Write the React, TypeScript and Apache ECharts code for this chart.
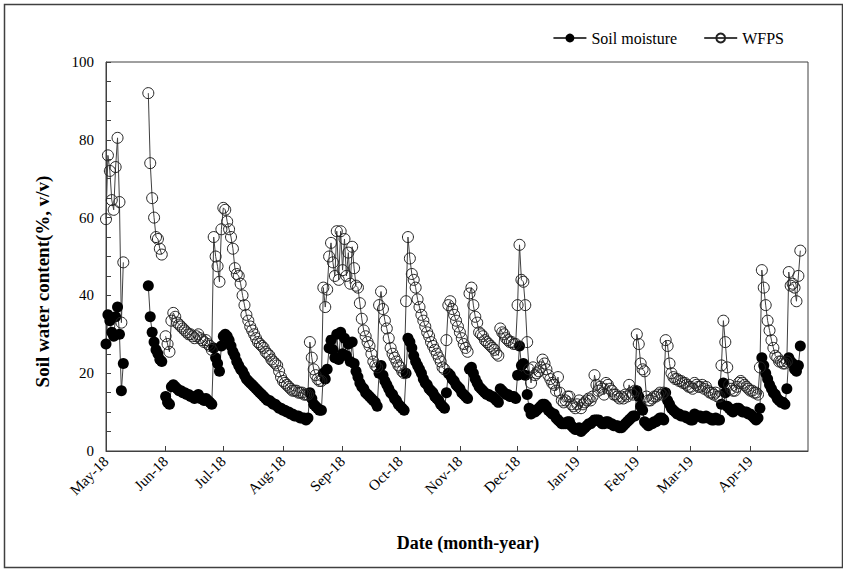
import React, { useEffect, useRef } from "react";
import * as echarts from "echarts";

// Daily series starting 1 May 2018 (index = days since 1 May 2018); null = no measurement
const soilMoisture: (number | null)[] = [
  27.5, 35, 33.5, 30.5, 29.5, 34.5, 37, 30, 15.5, 22.5,
  null, null, null, null, null, null, null, null, null, null, null, null,
  42.5, 34.5, 30.5, 28, 26, 25, 23.5, 23,
  null,
  14, 12.5, 12, 16.5, 17, 16.5, 16, 15.5, 15.5, 15, 15, 14.5, 14.5, 14, 14, 13.5, 14, 14.5, 13.5, 13.5, 13, 13.5, 13, 12.5, 12,
  26.5, 24, 22.5, 20.5, 27, 29.5, 30, 29.5, 28.5, 27,
  25.5, 24.5, 23, 22, 21, 20.5, 19.5, 18.5, 18, 17.5,
  17, 16.5, 16, 15.5, 15, 14.5, 14, 13.5, 13, 13,
  12.5, 12, 12, 11.5, 11, 11, 10.5, 10.5, 10, 10,
  9.5, 9.5, 9, 9, 9, 8.5, 8.5, 8.5, 8, 8.5,
  15, 13.5, 12, 11.5, 11, 10.5, 10.5,
  20, 18.5, 21, 26.5, 28.5, 26, 24, 30, 23.5, 30.5, 25, 29, 24.5, 27.5, 23, 28,
  22.5, 20.5, 19, 17.5, 16.5, 16, 15, 14.5, 14, 13.5, 13, 12.5, 11.5,
  20, 22, 19.5, 18, 17, 16, 15, 14.5, 13.5, 13, 12, 11.5, 11, 10.5, 20, 29,
  28, 26.5, 24.5, 23, 22, 21, 20, 18.5, 17.5, 17, 16, 15.5, 15, 14, 13.5, 13, 12, 11.5, 11,
  15, 20, 19.5, 18.5, 18, 17, 16.5, 16, 15, 14.5, 14, 13.5,
  21, 21.5, 20, 18.5, 17.5, 16.5, 16, 15.5, 15, 14.5, 14.5, 14, 14, 13.5, 13, 12.5,
  16, 15.5, 15, 14.5, 14.5, 14, 14, 14, 13.5,
  19.5, 27, 22, 22.5, 19.5, 14.5, 11, 9.5, 10.5, 10,
  10.5, 11, 11.5, 12, 12, 11.5, 10.5, 10, 9.5, 9.5,
  8.5, 8, 7.5, 7, 7, 7, 7.5, 7.5, 6.5, 6, 5.5,
  5.5, 6, 5, 5.5, 6, 6.5, 7, 7, 7.5, 8, 8, 8, 7.5, 7, 7, 7.5, 7.5, 7, 7, 6.5, 6.5, 6.5, 6, 6, 6.5, 7, 7.5, 8, 8.5, 9, 9,
  15.5, 14, 11.5, 10.5, 7.5, 7, 6.5, 7, 7, 7.5, 7.5, 8, 8.5, 8.5, 8, 15, 13, 12, 11, 10.5, 10, 9.5, 9.5, 9, 9, 9, 8.5, 8.5, 8,
  8, 9.5, 9, 9, 9, 8.5, 8.5, 9, 8.5, 8.5, 8, 8, 8.5, 8, 8, 12, 17.5, 15, 11.5, 11, 10.5, 10, 10.5, 11, 11, 10.5, 10, 10, 10, 9.5, 9.5, 9, 8.5, 8, 8.5,
  11, 24, 22, 20, 18.5, 17, 16, 15, 14.5, 13.5, 13, 12.5, 12.5, 12, 16, 24, 23, 22.5, 21, 20.5, 22, 27,
];

const wfps: (number | null)[] = [
  59.6, 76, 72, 64.5, 62, 73, 80.5, 64, 33, 48.5,
  null, null, null, null, null, null, null, null, null, null, null, null,
  92, 74, 65, 60, 55, 54.5, 52, 50.5,
  null,
  29.5, 27.5, 25.5, 33.5, 35.5, 34.5, 33, 32.5, 32, 31.5, 31, 30.5, 30, 30, 29.5, 29, 29.5, 30, 29, 28.5, 28, 28.5, 27.5, 27, 26,
  55, 50, 47.5, 43.5, 57, 62.5, 62, 59, 57, 55,
  52, 47, 45.5, 45, 43, 40, 37.5, 35, 33.5, 32,
  31, 30, 29, 28, 27.5, 27, 26.5, 25.5, 25, 24.5,
  23.5, 23, 22.5, 22, 20.5, 19, 18, 17.5, 17, 16.5,
  16, 15.5, 15.5, 15.5, 15, 15, 15, 14.5, 14.5, 14.5,
  28, 24, 21, 19.5, 18.5, 18, 18,
  42, 37, 41.5, 50, 53.5, 48.5, 45, 56.5, 44, 56.5, 46.5, 54.5, 45, 51, 43, 52.5,
  47, 42.5, 42, 38, 34, 31, 29.5, 28, 27, 25, 23, 22, 21.5,
  37.5, 41, 36.5, 33.5, 31.5, 29, 26.5, 25, 24, 23, 22, 21.5, 20.5, 20, 38.5, 55,
  49.5, 45.5, 44, 42, 39, 37, 35, 33.5, 32, 30.5, 29.5, 28, 27, 26, 25, 24, 23, 21.5, 21,
  28.5, 37.5, 38.5, 36.5, 35, 33.5, 32, 30.5, 29, 27.5, 26.5, 25.5,
  40.5, 42, 37.5, 34.5, 33, 30.5, 30, 29.5, 28.5, 28, 27.5, 27, 26.5, 26, 25, 24.5,
  31.5, 30.5, 30, 29, 28.5, 28, 28, 27.5, 27.5,
  37.5, 53, 44, 43.5, 37.5, 28, 21, 17.5, 21.5, 19.5,
  20, 20.5, 21.5, 23.5, 22.5, 21, 19.5, 18.5, 17.5, 17,
  15.5, 19, 15, 13, 12.5, 13, 14, 14, 12, 11.5, 11,
  12, 13, 11, 12, 12.5, 13, 13.5, 13, 14, 19.5, 17, 15.5, 16.5, 16, 14.5, 17.5, 17, 16, 15.5, 14.5, 14.5, 14, 13.5, 14, 13.5, 14.5, 14, 17, 15, 14.5, 15.5,
  30, 27.5, 22.5, 21, 20.5, 14, 13, 13, 13.5, 14, 14, 14.5, 15, 14.5, 15, 28.5, 27, 22.5, 20, 19, 18.5, 18.5, 18, 18, 17.5, 17.5, 17, 16.5, 16.5,
  16, 17.5, 17, 16.5, 16.5, 17, 16, 16.5, 15.5, 15, 15, 14.5, 15, 14, 14, 22, 33.5, 28, 21.5, 17, 16, 15.5, 15.5, 16.5, 17.5, 18, 17.5, 17, 16.5, 16, 15.5, 15.5, 15, 15, 14.5,
  21.5, 46.5, 42, 37.5, 33.5, 31, 28.5, 26.5, 24.5, 24, 23, 23, 22.5, 22.5, 23, 46, 42.5, 43, 42, 38.5, 45, 51.5,
];

const monthStartDays = [0, 31, 61, 92, 123, 153, 184, 214, 245, 276, 304, 335];
const monthLabels = [
  "May-18", "Jun-18", "Jul-18", "Aug-18", "Sep-18", "Oct-18",
  "Nov-18", "Dec-18", "Jan-19", "Feb-19", "Mar-19", "Apr-19",
];

const FONT = "'Liberation Serif', 'Times New Roman', serif";
const AXIS_COLOR = "#404040";

export default function App() {
  const ref = useRef<HTMLDivElement>(null);

  useEffect(() => {
    if (!ref.current) return;
    const chart = echarts.init(ref.current, null, { renderer: "svg" });
    chart.setOption({
      animation: false,
      backgroundColor: "#fff",
      graphic: [
        {
          type: "rect",
          left: 2,
          top: 2,
          shape: { x: 0, y: 0, width: 838, height: 563 },
          style: { fill: "none", stroke: "#404040", lineWidth: 1.5 },
          silent: true,
        },
      ],
      legend: {
        data: ["Soil moisture", "WFPS"],
        right: 54,
        top: 25,
        itemGap: 26,
        itemWidth: 33,
        itemHeight: 11,
        textStyle: { fontFamily: FONT, fontSize: 16, color: "#000" },
      },
      grid: {
        left: 106,
        right: 35,
        top: 62,
        bottom: 119,
        show: true,
        borderColor: AXIS_COLOR,
        borderWidth: 1,
        backgroundColor: "transparent",
      },
      xAxis: {
        type: "value",
        min: 0,
        max: 365,
        splitLine: { show: false },
        axisLine: { show: true, lineStyle: { color: AXIS_COLOR } },
        axisTick: {
          show: true,
          inside: true,
          length: 5,
          customValues: monthStartDays,
          lineStyle: { color: AXIS_COLOR },
        },
        axisLabel: {
          customValues: monthStartDays,
          formatter: (v: number) => {
            const i = monthStartDays.indexOf(Math.round(v));
            return i >= 0 ? monthLabels[i] : "";
          },
          rotate: 45,
          margin: 8,
          fontFamily: FONT,
          fontSize: 15,
          color: "#000",
        },
        name: "Date (month-year)",
        nameLocation: "middle",
        nameGap: 83,
        nameTextStyle: {
          fontFamily: FONT,
          fontSize: 18,
          fontWeight: "bold",
          color: "#000",
          padding: [0, 0, 0, 22],
        },
      },
      yAxis: {
        type: "value",
        min: 0,
        max: 100,
        interval: 20,
        splitLine: { show: false },
        axisLine: { show: true, lineStyle: { color: AXIS_COLOR } },
        axisTick: { show: true, inside: true, length: 5, lineStyle: { color: AXIS_COLOR } },
        minorTick: { show: true, splitNumber: 4, length: 5, lineStyle: { color: AXIS_COLOR } },
        axisLabel: { fontFamily: FONT, fontSize: 15, color: "#000", margin: 12 },
        name: "Soil water content(%, v/v)",
        nameLocation: "middle",
        nameGap: 54,
        nameTextStyle: {
          fontFamily: FONT,
          fontSize: 19,
          fontWeight: "bold",
          color: "#000",
          padding: [0, 50, 0, 0],
        },
      },
      series: [
        {
          name: "Soil moisture",
          type: "line",
          data: soilMoisture.map((v, i) => [i, v]),
          symbol: "circle",
          symbolSize: 11,
          itemStyle: { color: "#000" },
          lineStyle: { color: AXIS_COLOR, width: 1 },
          connectNulls: false,
        },
        {
          name: "WFPS",
          type: "line",
          data: wfps.map((v, i) => [i, v]),
          symbol: "circle",
          symbolSize: 11,
          itemStyle: { color: "rgba(255,255,255,0)", borderColor: "#222", borderWidth: 1 },
          lineStyle: { color: AXIS_COLOR, width: 1 },
          connectNulls: false,
        },
      ],
    });
    return () => chart.dispose();
  }, []);

  return (
    <div
      ref={ref}
      style={{ position: "fixed", left: 0, top: 0, width: 843, height: 570, background: "#fff" }}
    />
  );
}
